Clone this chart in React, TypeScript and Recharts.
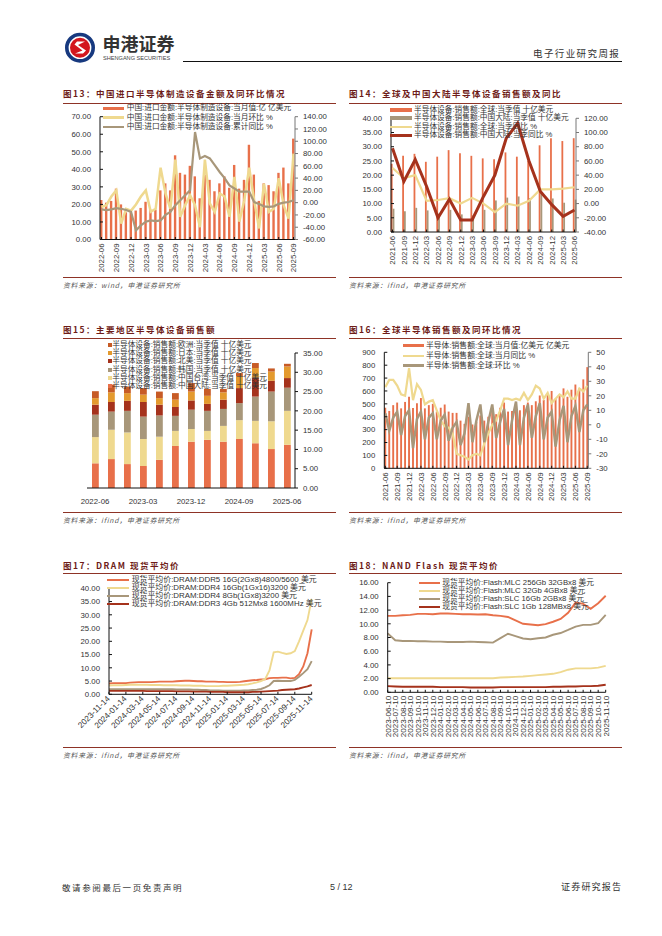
import React from "react";
import { ComposedChart, Bar, Line, XAxis, YAxis } from "recharts";

const ORANGE = "#E8704A";
const PALE = "#EFD98F";
const TAN = "#A8977A";
const DARK = "#A5321C";
const AMBER = "#E49A2E";
const RUST = "#C75B26";
const FONT = '"Liberation Sans","Noto Sans CJK SC",sans-serif';
const CJK = '"Noto Sans CJK SC",sans-serif';

const sp = (s: string) => s.trim().split(/\s+/);

// ---------- Fig 13
const cats13 = sp(`2022-06 2022-07 2022-08 2022-09 2022-10 2022-11 2022-12 2023-01 2023-02 2023-03 2023-04 2023-05 2023-06 2023-07 2023-08 2023-09 2023-10 2023-11 2023-12 2024-01 2024-02 2024-03 2024-04 2024-05 2024-06 2024-07 2024-08 2024-09 2024-10 2024-11 2024-12 2025-01 2025-02 2025-03 2025-04 2025-05 2025-06 2025-07 2025-08 2025-09`);
const amount13 = [22.5, 21, 22, 29, 20, 15.5, 15.5, 16.5, 18, 21.5, 17, 17, 28, 32, 28, 48, 38, 37, 42, 36, 23.5, 37, 34, 27.5, 32, 36, 29.5, 42.5, 29, 34, 54, 37, 22, 32, 31, 27.5, 38, 41, 32, 57.5];
const mom13 = [-7, -4, 10, 20, -34, -10, -13, -3, 10, 20, -15, -10, 57, 15, -10, 70, -23, -4, 12, -4, -40, 70, -1, -15, 15, 10, -23, 42, -31, 4, 57, 4, -42, 31, -15, -10, 40, -4, -26, 80];
const ytd13 = [-11, -12, -11, -9, -10, -12, -15, -45, -37, -31, -29, -30, -29, -20, -15, -4, 4, 12, 20, 115, 72, 76, 72, 61, 50, 40, 28, 23, 18, 18, 18, 1, -2, -6, -7, -6, -2, 0, 1, 4];
const left13 = [0, 10, 20, 30, 40, 50, 60, 70];
const right13 = [-60, -40, -20, 0, 20, 40, 60, 80, 100, 120, 140];
const legend13 = ["中国:进口金额:半导体制造设备:当月值:亿 亿美元", "中国:进口金额:半导体制造设备:当月环比 %", "中国:进口金额:半导体制造设备:累计同比 %"];

// ---------- Fig 14
const cats14 = sp(`2021-06 2021-09 2021-12 2022-03 2022-06 2022-09 2022-12 2023-03 2023-06 2023-09 2023-12 2024-03 2024-06 2024-09 2024-12 2025-03 2025-06`);
const global14 = [24, 26.8, 27.5, 24.7, 26.5, 28.8, 27.7, 26.8, 25.9, 25.6, 28, 26.5, 25, 30.5, 33, 32, 33];
const china14 = [8.2, 7.3, 8.5, 7.6, 6.5, 7.8, 6.2, 5.9, 7.8, 11.1, 12.1, 12.5, 12, 14, 11.8, 10.3, 11.4];
const globalYoy14 = [50, 36, 40, 4, 5, 7.5, 0, 8, 0, -12, 0, -3, 4, 20, 20, 21, 23];
const chinaYoy14 = [78, 31, 62, 24, -20, 6, -23, -23, 10, 40, 92, 113, 60, 17, -1.5, -18, -9];
const left14 = [0, 5, 10, 15, 20, 25, 30, 35, 40];
const right14 = [-40, -20, 0, 20, 40, 60, 80, 100, 120];
const legend14 = ["半导体设备:销售额:全球:当季值 十亿美元", "半导体设备:销售额:中国大陆:当季值 十亿美元", "半导体设备:销售额:全球:当季同比 %", "半导体设备:销售额:中国大陆:当季同比 %"];

// ---------- Fig 15
const cats15 = sp(`2022-06 2022-09 2022-12 2023-03 2023-06 2023-09 2023-12 2024-03 2024-06 2024-09 2024-12 2025-03 2025-06`);
const mainland15 = [6.4, 7.5, 6.2, 5.7, 7.3, 10.9, 12, 12.5, 12, 12.7, 11.6, 10.1, 11.2];
const taiwan15 = [6.8, 7.6, 8.2, 7.0, 6, 3.9, 3.3, 2.3, 4.1, 4.9, 5.8, 7.2, 8.8];
const korea15 = [5.8, 4.7, 5.6, 5.8, 5.5, 3.9, 5, 5.2, 4.4, 4.4, 6.3, 7.7, 6];
const america15 = [2.6, 2.5, 2.6, 3.8, 2.8, 2.3, 2.4, 1.8, 2.4, 3.9, 4.9, 2.8, 2.5];
const japan15 = [1.7, 2.5, 2.0, 1.9, 1.7, 1.9, 2.3, 2.1, 1.9, 3.1, 2.5, 2.4, 3];
const europe15 = [1.8, 2.0, 1.7, 1.7, 1.7, 1.7, 2.2, 1.8, 0.9, 0.8, 1.3, 0.8, 0.7];
const right15 = [0, 5, 10, 15, 20, 25, 30, 35];
const legend15 = ["半导体设备:销售额:欧洲:当季值 十亿美元", "半导体设备:销售额:日本:当季值 十亿美元", "半导体设备:销售额:北美:当季值 十亿美元", "半导体设备:销售额:韩国:当季值 十亿美元", "半导体设备:销售额:中国台湾:当季值 十亿美元", "半导体设备:销售额:中国大陆:当季值 十亿美元"];
const colors15 = [RUST, AMBER, DARK, TAN, PALE, ORANGE];

// ---------- Fig 16
const cats16 = sp(`2021-06 2021-07 2021-08 2021-09 2021-10 2021-11 2021-12 2022-01 2022-02 2022-03 2022-04 2022-05 2022-06 2022-07 2022-08 2022-09 2022-10 2022-11 2022-12 2023-01 2023-02 2023-03 2023-04 2023-05 2023-06 2023-07 2023-08 2023-09 2023-10 2023-11 2023-12 2024-01 2024-02 2024-03 2024-04 2024-05 2024-06 2024-07 2024-08 2024-09 2024-10 2024-11 2024-12 2025-01 2025-02 2025-03 2025-04 2025-05 2025-06 2025-07 2025-08 2025-09`);
const sales16 = [470, 445, 490, 510, 465, 515, 555, 468, 505, 545, 465, 490, 500, 440, 470, 495, 440, 430, 430, 370, 345, 400, 340, 360, 410, 370, 400, 450, 420, 470, 510, 440, 445, 500, 450, 490, 510, 490, 520, 565, 530, 570, 600, 540, 560, 620, 555, 610, 650, 620, 690, 785];
const yoy16 = [26, 31, 31, 27, 21, 20, 39, 17, 28, 24, 14, 16, 17, 10, 3, -1, -2, -6, -20, -21, -22, -24, -21, -20, -21, -13, -6, 0, 3, 10, 18, 18, 17, 18, 17, 22, 17, 21, 27, 25, 18, 22, 15, 18, 21, 19, 23, 18, 18, 25, 23, 27];
const qoq16 = [8, -4, 5, 9, -7, 6, 10, -16, 4, 9, -10, 5, 8, -10, 3, 7, -11, -2, 2, -14, -6, 15, -12, 3, 14, -12, 2, 14, -9, 2, 11, -14, 3, 16, -14, 5, 14, -9, 6, 15, -10, 5, 9, -15, 3, 13, -12, 6, 13, -5, 10, 14];
const left16 = [0, 100, 200, 300, 400, 500, 600, 700, 800, 900];
const right16 = [-30, -20, -10, 0, 10, 20, 30, 40, 50];
const legend16 = ["半导体:销售额:全球:当月值:亿美元 亿美元", "半导体:销售额:全球:当月同比 %", "半导体:销售额:全球:环比 %"];

// ---------- Fig 17
const cats17 = sp(`2023-11-14 2023-11-29 2023-12-14 2023-12-29 2024-01-14 2024-01-29 2024-02-14 2024-02-29 2024-03-14 2024-03-29 2024-04-14 2024-04-29 2024-05-14 2024-05-29 2024-06-14 2024-06-29 2024-07-14 2024-07-29 2024-08-14 2024-08-29 2024-09-14 2024-09-29 2024-10-14 2024-10-29 2024-11-14 2024-11-29 2024-12-14 2024-12-29 2025-01-14 2025-01-29 2025-02-14 2025-02-28 2025-03-14 2025-03-29 2025-04-14 2025-04-29 2025-05-14 2025-05-29 2025-06-14 2025-06-29 2025-07-14 2025-07-29 2025-08-14 2025-08-29 2025-09-14 2025-09-29 2025-10-14 2025-10-29 2025-11-14`);
const ddr5 = [4.1, 4.2, 4.2, 4.2, 4.2, 4.4, 4.5, 4.6, 4.6, 4.6, 4.6, 4.7, 4.8, 4.8, 4.8, 4.8, 4.9, 5.0, 5.1, 5.1, 5.0, 4.9, 4.9, 4.8, 4.8, 4.8, 4.7, 4.7, 4.6, 4.6, 4.6, 4.7, 4.9, 5.1, 5.3, 5.4, 5.6, 5.7, 6.1, 6.2, 6.2, 6.3, 6.3, 6.0, 6.2, 7.6, 10.5, 15.5, 24.5];
const ddr416 = [3.3, 3.4, 3.4, 3.4, 3.5, 3.6, 3.6, 3.6, 3.6, 3.6, 3.5, 3.5, 3.5, 3.4, 3.4, 3.4, 3.4, 3.3, 3.3, 3.3, 3.2, 3.2, 3.2, 3.1, 3.1, 3.1, 3.1, 3.2, 3.2, 3.3, 3.4, 3.5, 3.6, 3.8, 4.1, 4.5, 5.0, 5.8, 9.0, 15.8, 16.1, 15.6, 15.2, 15.5, 16.3, 20, 24, 28, 36];
const ddr48 = [1.9, 1.9, 1.9, 1.9, 1.9, 1.9, 1.9, 1.9, 1.9, 1.9, 1.9, 1.9, 1.9, 1.9, 1.9, 1.9, 1.8, 1.8, 1.8, 1.8, 1.7, 1.7, 1.6, 1.6, 1.5, 1.5, 1.5, 1.4, 1.4, 1.4, 1.4, 1.4, 1.5, 1.5, 1.6, 1.7, 2.0, 2.6, 3.4, 5.0, 5.1, 5.0, 5.0, 5.0, 5.4, 6.6, 8.0, 9.5, 12.5];
const ddr3 = [1.3, 1.3, 1.3, 1.3, 1.3, 1.3, 1.3, 1.3, 1.3, 1.2, 1.2, 1.2, 1.2, 1.2, 1.2, 1.2, 1.1, 1.1, 1.1, 1.1, 1.0, 1.0, 1.0, 1.0, 0.9, 0.9, 0.9, 0.9, 0.8, 0.8, 0.8, 0.8, 0.8, 0.8, 0.9, 0.9, 1.0, 1.1, 1.2, 1.3, 1.4, 1.6, 1.7, 1.8, 1.9, 2.2, 2.6, 3.0, 3.5];
const left17 = [0, 5, 10, 15, 20, 25, 30, 35, 40];
const legend17 = ["现货平均价:DRAM:DDR5 16G(2Gx8)4800/5600 美元", "现货平均价:DRAM:DDR4 16Gb(1Gx16)3200 美元", "现货平均价:DRAM:DDR4 8Gb(1Gx8)3200 美元", "现货平均价:DRAM:DDR3 4Gb 512Mx8 1600MHz 美元"];

// ---------- Fig 18
const cats18 = sp(`2023-06-10 2023-07-10 2023-08-10 2023-09-10 2023-10-10 2023-11-10 2023-12-10 2024-01-10 2024-02-10 2024-03-10 2024-04-10 2024-05-10 2024-06-10 2024-07-10 2024-08-10 2024-09-10 2024-10-10 2024-11-10 2024-12-10 2025-01-10 2025-02-10 2025-03-10 2025-04-10 2025-05-10 2025-06-10 2025-07-10 2025-08-10 2025-09-10 2025-10-10 2025-11-10`);
const mlc256 = [11.15, 11.15, 11.25, 11.3, 11.45, 11.45, 11.4, 11.5, 11.5, 11.45, 11.4, 11.4, 11.35, 11.4, 11.25, 11.15, 11.0, 10.5, 10.0, 9.9, 9.8, 9.95, 10.3, 10.7, 11.6, 13.1, 12.9, 12.2, 13.0, 14.1];
const mlc32 = [2.05, 2.05, 2.05, 2.05, 2.05, 2.05, 2.05, 2.05, 2.05, 2.05, 2.05, 2.05, 2.05, 2.05, 2.05, 2.15, 2.2, 2.25, 2.3, 2.4, 2.5, 2.6, 2.7, 2.95, 3.3, 3.5, 3.5, 3.5, 3.6, 3.85];
const slc16 = [8.6, 7.6, 7.5, 7.5, 7.45, 7.45, 7.4, 7.4, 7.35, 7.35, 7.35, 7.4, 7.35, 7.3, 7.25, 7.9, 8.55, 8.2, 7.85, 7.75, 7.9, 8.0, 8.4, 8.65, 9.1, 9.6, 9.85, 9.85, 10.1, 11.3];
const slc1 = [0.9, 0.85, 0.8, 0.8, 0.8, 0.8, 0.8, 0.75, 0.75, 0.75, 0.75, 0.7, 0.7, 0.7, 0.7, 0.75, 0.75, 0.75, 0.75, 0.75, 0.75, 0.75, 0.8, 0.8, 0.85, 0.85, 0.9, 0.9, 0.95, 1.1];
const left18 = [0, 2, 4, 6, 8, 10, 12, 14, 16];
const legend18 = ["现货平均价:Flash:MLC 256Gb 32GBx8 美元", "现货平均价:Flash:MLC 32Gb 4GBx8 美元", "现货平均价:Flash:SLC 16Gb 2GBx8 美元", "现货平均价:Flash:SLC 1Gb 128MBx8 美元"];

const titles = ["图13：中国进口半导体制造设备金额及同环比情况", "图14：全球及中国大陆半导体设备销售额及同比", "图15：主要地区半导体设备销售额", "图16：全球半导体销售额及同环比情况", "图17：DRAM 现货平均价", "图18：NAND Flash 现货平均价"];
const sources = ["资料来源：wind，申港证券研究所", "资料来源：ifind，申港证券研究所"];

// ---------- helpers
const AX = "#111";
const AXR = "#777";
const TXT = "#333";
const tickStyle = { fontSize: 7.8, fill: TXT, fontFamily: FONT };
const f2 = (v: number) => v.toFixed(2);
const bandPad = (w: number, n: number, c: number) => c - (w - 2 * c) / (n - 1) / 2;

function RotTick({ x, y, payload, rot, shift, fs = 7.8 }: any) {
  return (
    <g transform={`translate(${x},${y})`}>
      <text transform={`rotate(${rot})`} x={0} y={0} dy={shift} textAnchor="end" fontSize={fs} fill={TXT} fontFamily={FONT}>
        {payload.value}
      </text>
    </g>
  );
}

const Abs = ({ x, y, children, style }: any) => (
  <div style={{ position: "absolute", left: x, top: y, whiteSpace: "nowrap", ...style }}>{children}</div>
);

function Frame({ x, yTitle, yRule, yBottom, title, source }: any) {
  return (
    <>
      <Abs x={x} y={yTitle - 7} style={{ fontFamily: CJK, fontWeight: 700, fontSize: 8.5, letterSpacing: 1.5, lineHeight: "14px", color: "#6E1C18" }}>{title}</Abs>
      <div style={{ position: "absolute", left: x, top: yRule, width: 273, height: 1, background: "#8E3326" }} />
      <div style={{ position: "absolute", left: x, top: yBottom, width: 273, height: 1, background: "#8E3326" }} />
      <Abs x={x} y={yBottom + 3} style={{ fontFamily: CJK, fontStyle: "italic", fontSize: 6.8, letterSpacing: 0.8, lineHeight: "11px", color: "#555" }}>{source}</Abs>
    </>
  );
}

function Legend({ x, tx, rows, labels, colors, thick, size, square }: any) {
  return (
    <div style={{ position: "absolute", left: 0, top: 0, zIndex: 5 }}>
      {labels.map((l: string, i: number) => (
        <React.Fragment key={l}>
          <div style={{ position: "absolute", left: x, top: rows[i] - (square ? 2 : thick[i] / 2), width: square ? 4 : tx - x - 2.5, height: square ? 4 : thick[i], background: colors[i] }} />
          <div style={{ position: "absolute", left: tx, top: rows[i] - 6, lineHeight: "12px", fontSize: size, whiteSpace: "nowrap", color: TXT, fontFamily: FONT }}>{l}</div>
        </React.Fragment>
      ))}
    </div>
  );
}

const box = (x: number, y: number, w: number, h: number, z = 1): React.CSSProperties => ({ position: "absolute", left: x, top: y, width: w, height: h, zIndex: z });

const rows = (cats: string[], series: Record<string, number[]>) =>
  cats.map((c, i) => {
    const r: any = { c };
    for (const k of Object.keys(series)) r[k] = series[k][i];
    return r;
  });

const leftAxis = (width: number, domain: number[], ticks: number[], fmt: any = f2) => (
  <YAxis yAxisId="l" orientation="left" width={width} domain={domain} ticks={ticks} interval={0} tickFormatter={fmt} tickSize={-3} tickMargin={12} tick={tickStyle} axisLine={{ stroke: AX }} tickLine={{ stroke: AX }} />
);
const rightAxis = (width: number, domain: number[], ticks: number[], fmt: any = f2, color = AXR) => (
  <YAxis yAxisId="r" orientation="right" width={width} domain={domain} ticks={ticks} interval={0} tickFormatter={fmt} tickSize={3} tickMargin={5} tick={tickStyle} axisLine={{ stroke: color }} tickLine={{ stroke: color }} />
);
const num0 = (v: number) => String(v);

function Chart13() {
  const d = rows(cats13, { amount13, mom13, ytd13 });
  const p = bandPad(195, 40, 1.5);
  return (
    <div style={box(50, 100, 290, 180)}>
      <ComposedChart width={290} height={180} data={d} margin={{ top: 16.7, right: 0, bottom: 0, left: 0 }} barCategoryGap={0} barGap={0}>
        <XAxis dataKey="c" height={40.5} interval={2} padding={{ left: p, right: p }} tickSize={-2.5} tickMargin={6.5} tick={<RotTick rot={-90} shift={2.8} />} axisLine={{ stroke: AX }} tickLine={{ stroke: AX }} />
        {leftAxis(50, [0, 70], left13)}
        {rightAxis(45, [-60, 140], right13)}
        <Bar yAxisId="l" dataKey="amount13" fill={ORANGE} barSize={2.4} isAnimationActive={false} />
        <Line yAxisId="r" dataKey="mom13" stroke={PALE} strokeWidth={2.5} dot={false} isAnimationActive={false} />
        <Line yAxisId="r" dataKey="ytd13" stroke={TAN} strokeWidth={2.2} dot={false} isAnimationActive={false} />
      </ComposedChart>
    </div>
  );
}

function Chart14() {
  const d = rows(cats14, { global14, china14, globalYoy14, chinaYoy14 });
  const p = bandPad(185, 17, 1.5);
  return (
    <div style={box(340, 100, 290, 180)}>
      <ComposedChart width={290} height={180} data={d} margin={{ top: 18.3, right: 0, bottom: 0, left: 0 }} barGap={0}>
        <XAxis dataKey="c" height={48} interval={0} padding={{ left: p, right: p }} tickSize={-2.5} tickMargin={6.5} tick={<RotTick rot={-90} shift={2.8} />} axisLine={{ stroke: AX }} tickLine={{ stroke: AX }} />
        {leftAxis(51, [0, 40], left14)}
        {rightAxis(54, [-40, 120], right14)}
        <Bar yAxisId="l" dataKey="global14" fill={ORANGE} barSize={1.8} isAnimationActive={false} />
        <Bar yAxisId="l" dataKey="china14" fill={TAN} barSize={1.8} isAnimationActive={false} />
        <Line yAxisId="r" dataKey="globalYoy14" stroke={PALE} strokeWidth={2.2} dot={false} isAnimationActive={false} />
        <Line yAxisId="r" dataKey="chinaYoy14" stroke={DARK} strokeWidth={3} dot={false} isAnimationActive={false} />
      </ComposedChart>
    </div>
  );
}

function Chart15() {
  const d = rows(cats15, { mainland15, taiwan15, korea15, america15, japan15, europe15 });
  return (
    <div style={box(50, 340, 290, 180)}>
      <ComposedChart width={290} height={180} data={d} margin={{ top: 13, right: 0, bottom: 0, left: 37 }}>
        <XAxis dataKey="c" height={32} interval={2} tickLine={false} tickMargin={4} tick={tickStyle} axisLine={{ stroke: AX }} />
        {rightAxis(45, [0, 35], right15, f2, AX)}
        <Bar yAxisId="r" dataKey="mainland15" stackId="a" fill={ORANGE} barSize={6.8} isAnimationActive={false} />
        <Bar yAxisId="r" dataKey="taiwan15" stackId="a" fill={PALE} barSize={6.8} isAnimationActive={false} />
        <Bar yAxisId="r" dataKey="korea15" stackId="a" fill={TAN} barSize={6.8} isAnimationActive={false} />
        <Bar yAxisId="r" dataKey="america15" stackId="a" fill={DARK} barSize={6.8} isAnimationActive={false} />
        <Bar yAxisId="r" dataKey="japan15" stackId="a" fill={AMBER} barSize={6.8} isAnimationActive={false} />
        <Bar yAxisId="r" dataKey="europe15" stackId="a" fill={RUST} barSize={6.8} isAnimationActive={false} />
      </ComposedChart>
    </div>
  );
}

function Chart16() {
  const d = rows(cats16, { sales16, yoy16, qoq16 });
  const p = bandPad(204, 52, 1);
  return (
    <div style={box(340, 340, 290, 180)}>
      <ComposedChart width={290} height={180} data={d} margin={{ top: 12.3, right: 0, bottom: 0, left: 0 }} barGap={0}>
        <XAxis dataKey="c" height={51.7} interval={2} padding={{ left: p, right: p }} tickSize={-2.5} tickMargin={6.5} tick={<RotTick rot={-90} shift={2.8} />} axisLine={{ stroke: AX }} tickLine={{ stroke: AX }} />
        {leftAxis(44.3, [0, 900], left16, num0)}
        {rightAxis(41.7, [-30, 50], right16, num0)}
        <Bar yAxisId="l" dataKey="sales16" fill={ORANGE} barSize={1.9} isAnimationActive={false} />
        <Line yAxisId="r" dataKey="yoy16" stroke={PALE} strokeWidth={2.2} dot={false} isAnimationActive={false} />
        <Line yAxisId="r" dataKey="qoq16" stroke={TAN} strokeWidth={2.5} dot={false} isAnimationActive={false} />
      </ComposedChart>
    </div>
  );
}

function Chart17() {
  const d = rows(cats17, { ddr5, ddr416, ddr48, ddr3 });
  return (
    <div style={box(50, 575, 290, 175)}>
      <ComposedChart width={290} height={175} data={d} margin={{ top: 13.3, right: 28.3, bottom: 0, left: 0 }}>
        <XAxis dataKey="c" height={55.7} interval={3} scale="point" tickSize={-2.5} tickMargin={6} tick={<RotTick rot={-45} shift={2} fs={8.2} />} axisLine={{ stroke: AX }} tickLine={{ stroke: AX }} />
        {leftAxis(59, [0, 40], left17)}
        <Line yAxisId="l" dataKey="ddr5" stroke={ORANGE} strokeWidth={1.9} dot={false} isAnimationActive={false} />
        <Line yAxisId="l" dataKey="ddr416" stroke={PALE} strokeWidth={1.9} dot={false} isAnimationActive={false} />
        <Line yAxisId="l" dataKey="ddr48" stroke={TAN} strokeWidth={1.9} dot={false} isAnimationActive={false} />
        <Line yAxisId="l" dataKey="ddr3" stroke={DARK} strokeWidth={1.9} dot={false} isAnimationActive={false} />
      </ComposedChart>
    </div>
  );
}

function Chart18() {
  const d = rows(cats18, { mlc256, mlc32, slc16, slc1 });
  return (
    <div style={box(340, 575, 290, 175)}>
      <ComposedChart width={290} height={175} data={d} margin={{ top: 7.7, right: 24.3, bottom: 0, left: 0 }}>
        <XAxis dataKey="c" height={57.7} interval={0} scale="point" tickSize={-2.5} tickMargin={6} tick={<RotTick rot={-90} shift={2.8} fs={8.1} />} axisLine={{ stroke: AX }} tickLine={{ stroke: AX }} />
        {leftAxis(47.7, [0, 16], left18)}
        <Line yAxisId="l" dataKey="mlc256" stroke={ORANGE} strokeWidth={1.9} dot={false} isAnimationActive={false} />
        <Line yAxisId="l" dataKey="mlc32" stroke={PALE} strokeWidth={1.9} dot={false} isAnimationActive={false} />
        <Line yAxisId="l" dataKey="slc16" stroke={TAN} strokeWidth={1.9} dot={false} isAnimationActive={false} />
        <Line yAxisId="l" dataKey="slc1" stroke={DARK} strokeWidth={1.9} dot={false} isAnimationActive={false} />
      </ComposedChart>
    </div>
  );
}

function Logo() {
  return (
    <svg style={{ position: "absolute", left: 64, top: 31 }} width={34} height={34} viewBox="0 0 34 34">
      <circle cx={16} cy={16.7} r={13.2} fill="#fff" stroke="#17397F" strokeWidth={3.6} />
      <circle cx={16} cy={16.7} r={10} fill="#D3161E" />
      <path d="M21 10.5 L13 10.5 L10.5 13.5 L18.5 19.5 L11 22.5 L19 22.5 L22 19.5 L14 14 L21 10.5 Z" fill="#fff" />
    </svg>
  );
}

export default function App() {
  return (
    <div style={{ position: "absolute", left: 0, top: 0, width: 662, height: 936, overflow: "hidden", background: "#fff", fontFamily: FONT }}>
      <Logo />
      <Abs x={102.5} y={32} style={{ fontFamily: CJK, fontWeight: 700, fontSize: 18, lineHeight: "22px", color: "#333" }}>申港证券</Abs>
      <Abs x={103} y={54} style={{ fontFamily: FONT, fontSize: 5.6, lineHeight: "9px", color: "#444" }}>SHENGANG SECURITIES</Abs>
      <div style={{ position: "absolute", left: 183, top: 61, width: 439, height: 1, background: "#111" }} />
      <Abs x={533} y={47} style={{ fontFamily: CJK, fontSize: 9.5, letterSpacing: 1.4, lineHeight: "13px", color: "#333" }}>电子行业研究周报</Abs>

      <Frame x={63} yTitle={93} yRule={103} yBottom={277} title={titles[0]} source={sources[0]} />
      <Frame x={349} yTitle={93} yRule={103} yBottom={277} title={titles[1]} source={sources[1]} />
      <Frame x={63} yTitle={329} yRule={338} yBottom={512} title={titles[2]} source={sources[1]} />
      <Frame x={349} yTitle={329} yRule={338} yBottom={512} title={titles[3]} source={sources[1]} />
      <Frame x={63} yTitle={565} yRule={573} yBottom={747} title={titles[4]} source={sources[1]} />
      <Frame x={349} yTitle={565} yRule={573} yBottom={747} title={titles[5]} source={sources[1]} />

      <Chart13 />
      <Chart14 />
      <Chart15 />
      <Chart16 />
      <Chart17 />
      <Chart18 />

      <Legend x={103} tx={126.7} rows={[108.3, 117.7, 127]} labels={legend13} colors={[ORANGE, PALE, TAN]} thick={[3.5, 2.5, 2.2]} size={7.7} />
      <Legend x={390} tx={414} rows={[110, 118.3, 126.7, 135]} labels={legend14} colors={[ORANGE, TAN, PALE, DARK]} thick={[4, 4, 2.2, 3]} size={7.7} />
      <Legend x={108} tx={112.3} rows={[345.3, 353.3, 361.3, 370, 378, 386]} labels={legend15} colors={colors15} square size={7.7} />
      <Legend x={403} tx={426} rows={[345.7, 355.7, 365.7]} labels={legend16} colors={[ORANGE, PALE, TAN]} thick={[3.5, 2.2, 2.5]} size={7.8} />
      <Legend x={107} tx={131.7} rows={[580, 588.3, 595.7, 603.7]} labels={legend17} colors={[ORANGE, PALE, TAN, DARK]} thick={[1.9, 1.9, 1.9, 1.9]} size={7.9} />
      <Legend x={419} tx={442.3} rows={[582.7, 591, 599.3, 607.3]} labels={legend18} colors={[ORANGE, PALE, TAN, DARK]} thick={[1.9, 1.9, 1.9, 1.9]} size={7.75} />

      <Abs x={62} y={881} style={{ fontFamily: CJK, fontSize: 8.5, letterSpacing: 1.6, lineHeight: "12px", color: "#333" }}>敬请参阅最后一页免责声明</Abs>
      <Abs x={330} y={881} style={{ fontFamily: FONT, fontSize: 9, lineHeight: "12px", color: "#333" }}>5 / 12</Abs>
      <Abs x={561} y={881} style={{ fontFamily: CJK, fontSize: 9, letterSpacing: 1.2, lineHeight: "12px", color: "#333" }}>证券研究报告</Abs>
    </div>
  );
}
